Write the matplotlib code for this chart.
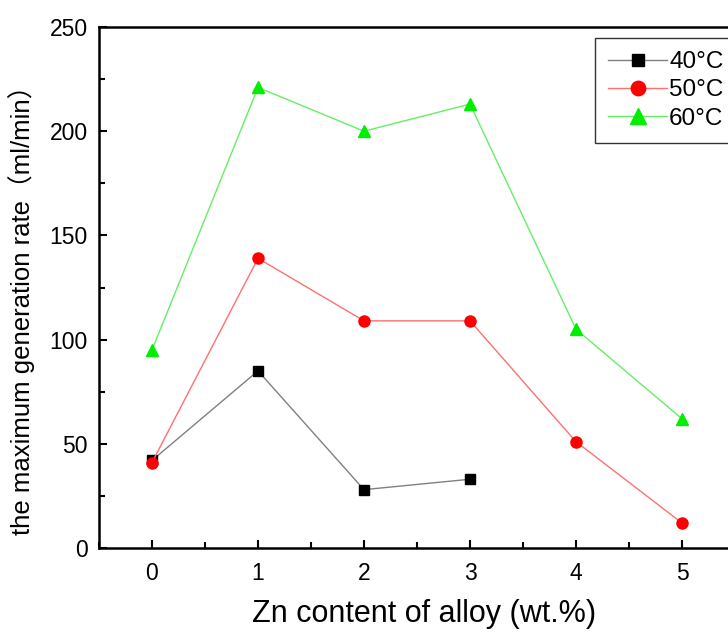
import matplotlib
matplotlib.use("Agg")
import matplotlib.pyplot as plt
from matplotlib.ticker import MultipleLocator

plt.rcParams['font.family'] = ['Liberation Sans', 'Noto Sans CJK SC', 'DejaVu Sans']

zn = [0, 1, 2, 3, 4, 5]
zn_40 = [0, 1, 2, 3]
rate_40 = [42, 85, 28, 33]
rate_50 = [41, 139, 109, 109, 51, 12]
rate_60 = [95, 221, 200, 213, 105, 62]
labels = ['40°C', '50°C', '60°C']

fig = plt.figure(figsize=(7.28, 6.34), dpi=100)
ax = fig.add_axes([99/728, 86/634, 636/728, 521/634])

l1, = ax.plot(zn_40, rate_40, color='#808080', lw=1.0, marker='s', ms=7,
              mfc='black', mec='black', label=labels[0])
l2, = ax.plot(zn, rate_50, color='#ff7070', lw=1.0, marker='o', ms=8,
              mfc='#ff0000', mec='#ff0000', label=labels[1])
l3, = ax.plot(zn, rate_60, color='#66ee66', lw=1.0, marker='^', ms=9,
              mfc='#00ee00', mec='#00ee00', label=labels[2])

ax.set_xlim(-0.5, 5.5)
ax.set_ylim(0, 250)
ax.xaxis.set_major_locator(MultipleLocator(1))
ax.xaxis.set_minor_locator(MultipleLocator(0.5))
ax.yaxis.set_major_locator(MultipleLocator(50))
ax.yaxis.set_minor_locator(MultipleLocator(25))
ax.tick_params(which='both', direction='in', width=1.5, top=False, right=False)
ax.tick_params(which='major', length=6, labelsize=16.5)
ax.tick_params(axis='x', which='major', pad=10)
ax.tick_params(axis='y', which='major', pad=8)
ax.tick_params(which='minor', length=4)
for s in ax.spines.values():
    s.set_linewidth(1.8)

ax.set_xlabel('Zn content of alloy (wt.%)', fontsize=22)
ax.xaxis.set_label_coords(0.511, -0.098)
ax.set_ylabel('the maximum generation rate（ml/min）', fontsize=18.5)
ax.yaxis.set_label_coords(-0.10, 0.468)

leg = fig.legend(handles=[l1, l2, l3], loc='upper left',
                 bbox_to_anchor=(595/728, 1 - 38/634), fontsize=17.5,
                 frameon=True, fancybox=False, edgecolor='black',
                 handlelength=2.4, handletextpad=0.1, labelspacing=0.25,
                 borderpad=0.55, borderaxespad=0, markerscale=1.3)
leg.get_frame().set_linewidth(1.0)

fig.savefig('out.png', dpi=100)
